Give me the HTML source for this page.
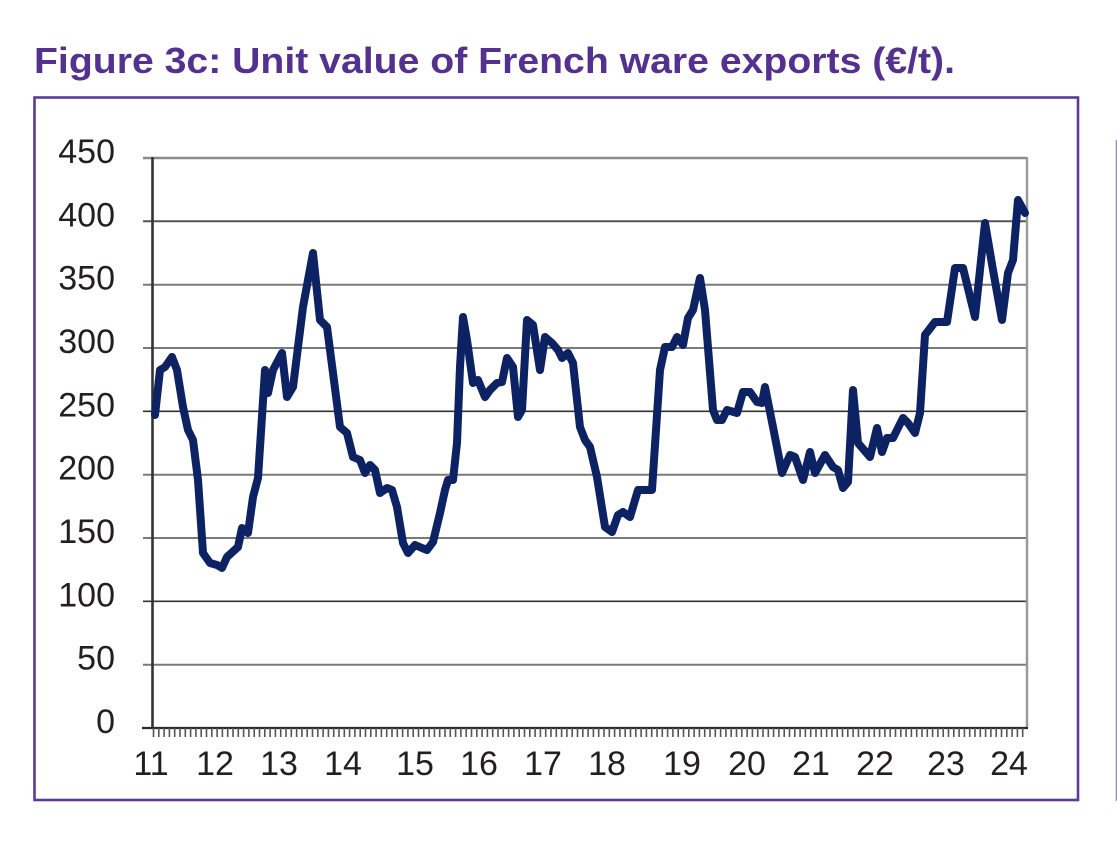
<!DOCTYPE html>
<html>
<head>
<meta charset="utf-8">
<style>
html,body{margin:0;padding:0;background:#fff;}
svg{display:block;}
</style>
</head>
<body>
<svg width="1117" height="841" viewBox="0 0 1117 841" xmlns="http://www.w3.org/2000/svg">
<rect x="0" y="0" width="1117" height="841" fill="#ffffff"/>
<text x="34" y="73" font-family="Liberation Sans, sans-serif" font-weight="bold" font-size="36" fill="#55318f" textLength="921" lengthAdjust="spacingAndGlyphs">Figure 3c: Unit value of French ware exports (€/t).</text>
<rect x="34.5" y="97.5" width="1043.5" height="702.5" fill="none" stroke="#5c3a98" stroke-width="2.6"/>
<line x1="1116.5" y1="140" x2="1116.5" y2="801" stroke="#9d89c8" stroke-width="1.6"/>

<!-- gridlines -->
<g stroke="#7a7a7a" stroke-width="2">
<line x1="143" y1="158" x2="1027" y2="158" stroke="#8a8a8a" stroke-width="2.6"/>
<line x1="143" y1="221.3" x2="1027" y2="221.3" stroke="#555"/>
<line x1="143" y1="284.7" x2="1027" y2="284.7"/>
<line x1="143" y1="348" x2="1027" y2="348"/>
<line x1="143" y1="411.3" x2="1027" y2="411.3" stroke="#333" stroke-width="1.6"/>
<line x1="143" y1="474.7" x2="1027" y2="474.7"/>
<line x1="143" y1="538" x2="1027" y2="538"/>
<line x1="143" y1="601.3" x2="1027" y2="601.3" stroke="#333" stroke-width="1.6"/>
<line x1="143" y1="664.7" x2="1027" y2="664.7"/>
</g>
<line x1="1027" y1="157" x2="1027" y2="728" stroke="#9a9a9a" stroke-width="2.5"/>
<line x1="152.5" y1="157" x2="152.5" y2="729" stroke="#333" stroke-width="2.6"/>
<line x1="142" y1="728" x2="1028" y2="728" stroke="#2a2a2a" stroke-width="2.2"/>

<!-- x ticks -->
<g id="ticks" stroke="#555" stroke-width="1.6"></g>

<!-- y labels -->
<g font-family="Liberation Sans, sans-serif" font-size="34" fill="#231f20" text-anchor="end">
<text x="115" y="163">450</text>
<text x="115" y="226.3">400</text>
<text x="115" y="289.7">350</text>
<text x="115" y="353">300</text>
<text x="115" y="416.3">250</text>
<text x="115" y="479.7">200</text>
<text x="115" y="543">150</text>
<text x="115" y="606.3">100</text>
<text x="115" y="669.7">50</text>
<text x="115" y="733">0</text>
</g>

<!-- x labels -->
<g font-family="Liberation Sans, sans-serif" font-size="34" fill="#231f20" text-anchor="middle">
<text x="151" y="775">11</text>
<text x="215" y="775">12</text>
<text x="279" y="775">13</text>
<text x="343" y="775">14</text>
<text x="415" y="775">15</text>
<text x="479" y="775">16</text>
<text x="543" y="775">17</text>
<text x="607" y="775">18</text>
<text x="682" y="775">19</text>
<text x="747" y="775">20</text>
<text x="811" y="775">21</text>
<text x="875" y="775">22</text>
<text x="946" y="775">23</text>
<text x="1009" y="775">24</text>
</g>

<polyline fill="none" stroke="#0c2262" stroke-width="8" stroke-linejoin="round" stroke-linecap="round" points="
155,415 160,370 165,367 172,357 177,370 183,407 188,430 193,440 198,480 203,553 210,563 217,565 222,568 227,557 238,547 242,528 248,533 253,497 258,478 265,370 268,393 273,370 282,353 287,397 293,387 303,307 313,253 320,320 327,327 333,373 340,427 347,433 353,457 360,460
365,473 370,465 375,470 380,493 387,488 392,490 397,507 403,543 408,553 415,545 422,548 427,550 433,542 440,513 445,490 448,480 453,480 457,443 460,367 463,317 467,340 473,383 478,380 485,397 490,390 497,383 502,382 507,358 513,367 518,417 522,410 527,320 533,325 540,370 545,337 552,343 558,350 562,358 568,353 573,363 580,427 585,440 590,447 597,477 605,527 612,532 618,515 623,512 630,517 638,490 645,490 652,490 660,370 665,347 672,347 677,337 683,345 688,318 693,310 700,278 705,310 713,410 717,420 722,420 727,410 737,413 743,392 750,392 757,402 762,403 765,387 773,427 782,473 790,455 795,457 803,480 810,452 815,473 825,455 833,467 838,470 843,488 848,482 853,390 858,443 870,457 877,428 882,452 887,438 893,438 903,418 908,423 915,433 920,413 925,335 935,322 947,322 955,268 963,268 975,317 985,223 993,270 1002,320 1008,273 1013,260 1018,200 1025,213"/>
</svg>
<script>
(function(){
  var g=document.getElementById('ticks');
  var ns='http://www.w3.org/2000/svg';
  for(var x=153.5;x<=1027.5;x+=5.3){
    var l=document.createElementNS(ns,'line');
    l.setAttribute('x1',x.toFixed(1));l.setAttribute('x2',x.toFixed(1));
    l.setAttribute('y1','728');l.setAttribute('y2','737');
    g.appendChild(l);
  }
})();
</script>
</body>
</html>
